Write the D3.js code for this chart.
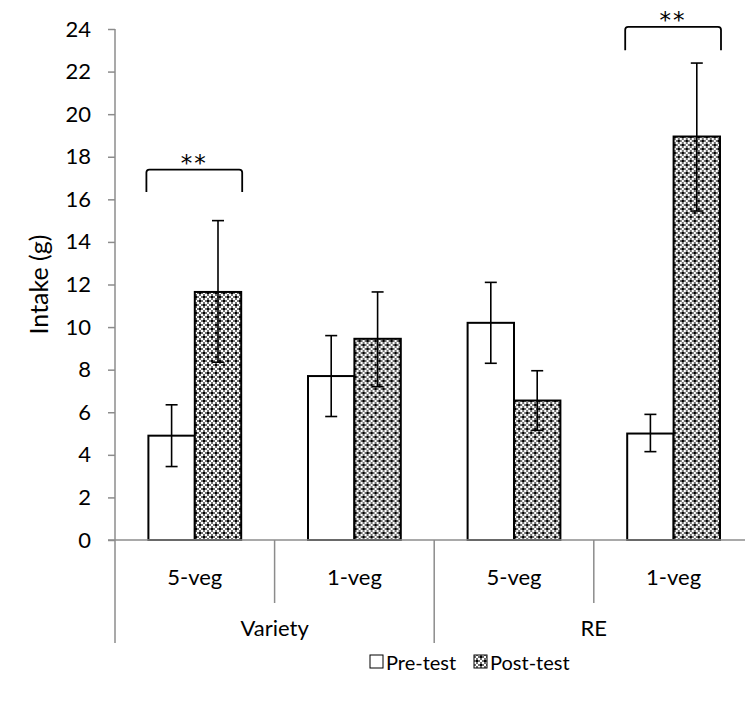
<!DOCTYPE html>
<html>
<head>
<meta charset="utf-8">
<script src="https://cdn.jsdelivr.net/npm/d3@7"></script>
<style>
  body { margin: 0; background: #fff; }
  text { font-family: Lato, "Open Sans", sans-serif; fill: #000; }
</style>
</head>
<body>
<svg id="chart" width="745" height="716"></svg>
<script>
// ---- data ----
const groups = ["Variety", "RE"];
const subcats = ["5-veg", "1-veg"];
const series = ["Pre-test", "Post-test"];
const preValues  = [4.9, 7.7, 10.2, 5.0];
const preLow     = [3.45, 5.8, 8.3, 4.15];
const preHigh    = [6.35, 9.6, 12.1, 5.9];
const postValues = [11.65, 9.45, 6.55, 18.95];
const postLow    = [8.35, 7.2, 5.15, 15.45];
const postHigh   = [15.0, 11.65, 7.95, 22.4];
const yTicks = [0, 2, 4, 6, 8, 10, 12, 14, 16, 18, 20, 22, 24];
// significance brackets: category index, bracket top value, leg bottom value
const sigIndex = [0, 3];
const sigTop = [17.4, 24.1];
const sigLeg = [16.35, 23.0];
const sigLabel = ["**", "**"];

const categories = [];
groups.forEach(g => subcats.forEach(s => categories.push({ g, s, key: g + "|" + s })));

const svg = d3.select("#chart");
const mLeft = 115, mTop = 29, mBottom = 540, catW = 159.6;
const mRight = mLeft + catW * categories.length;
const FONT = "Lato, 'Open Sans', sans-serif";

const defs = svg.append("defs");
const pat = defs.append("pattern").attr("id", "weave")
  .attr("patternUnits", "userSpaceOnUse").attr("width", 8).attr("height", 8);
pat.append("rect").attr("width", 8).attr("height", 8).attr("fill", "#fff");
[[0,0],[4,4]].forEach(([x,y]) => pat.append("rect").attr("x", x).attr("y", y).attr("width", 2).attr("height", 2).attr("fill", "#000"));
[[2,0],[6,0],[0,2],[0,6],[6,4],[2,4],[4,2],[4,6]].forEach(([x,y]) => pat.append("rect").attr("x", x).attr("y", y).attr("width", 2).attr("height", 2).attr("fill", "#6e6e6e"));

const x0 = d3.scaleBand().domain(categories.map(c => c.key)).range([mLeft, mRight]).paddingInner(0).paddingOuter(0);
const x1 = d3.scaleBand().domain(series).range([0, x0.bandwidth()]).paddingInner(0).paddingOuter(0.72);
const y = d3.scaleLinear().domain([0, 24]).range([mBottom, mTop]);

const gridColor = "#8c8c8c";

// y axis
const yAxis = svg.append("g").attr("transform", `translate(${mLeft},0)`)
  .call(d3.axisLeft(y).tickValues(yTicks).tickSize(7).tickPadding(17));
yAxis.select(".domain").attr("stroke", gridColor).attr("stroke-width", 1.5).attr("d", `M0,${mTop}V${mBottom}`);
yAxis.selectAll(".tick line").attr("stroke", gridColor).attr("stroke-width", 1.5);
yAxis.selectAll(".tick text").style("font-size", "22px").style("font-family", FONT).attr("fill", "#000");

// bars
const data = categories.map((c, i) => ({
  key: c.key,
  vals: [
    { s: series[0], v: preValues[i], lo: preLow[i], hi: preHigh[i] },
    { s: series[1], v: postValues[i], lo: postLow[i], hi: postHigh[i] }
  ]
}));

const cg = svg.append("g").selectAll("g").data(data).join("g")
  .attr("transform", d => `translate(${x0(d.key)},0)`);
cg.selectAll("rect").data(d => d.vals).join("rect")
  .attr("x", d => x1(d.s)).attr("y", d => y(d.v))
  .attr("width", x1.bandwidth()).attr("height", d => y(0) - y(d.v))
  .attr("fill", d => d.s === series[0] ? "#fff" : "url(#weave)")
  .attr("stroke", "#000").attr("stroke-width", 2);

// error bars
const eb = cg.selectAll("g.err").data(d => d.vals).join("g").attr("class", "err");
eb.append("line")
  .attr("x1", d => x1(d.s) + x1.bandwidth() / 2).attr("x2", d => x1(d.s) + x1.bandwidth() / 2)
  .attr("y1", d => y(d.lo)).attr("y2", d => y(d.hi))
  .attr("stroke", "#000").attr("stroke-width", 1.6);
["lo", "hi"].forEach(k => eb.append("line")
  .attr("x1", d => x1(d.s) + x1.bandwidth() / 2 - 6).attr("x2", d => x1(d.s) + x1.bandwidth() / 2 + 6)
  .attr("y1", d => y(d[k])).attr("y2", d => y(d[k]))
  .attr("stroke", "#000").attr("stroke-width", 1.6));

// x axis line
svg.append("line").attr("x1", mLeft - 7).attr("x2", 745).attr("y1", mBottom).attr("y2", mBottom)
  .attr("stroke", gridColor).attr("stroke-width", 1.5);
// y axis extension below
svg.append("line").attr("x1", mLeft).attr("x2", mLeft).attr("y1", mBottom).attr("y2", 643)
  .attr("stroke", gridColor).attr("stroke-width", 1.5);
// separators
categories.forEach((c, i) => {
  if (i === 0) return;
  const xx = x0(c.key);
  const isGroup = categories[i - 1].g !== c.g;
  svg.append("line").attr("x1", xx).attr("x2", xx).attr("y1", mBottom).attr("y2", isGroup ? 643 : 603)
    .attr("stroke", gridColor).attr("stroke-width", 1.5);
});

// sub category labels
svg.append("g").selectAll("text").data(categories).join("text")
  .attr("x", d => x0(d.key) + x0.bandwidth() / 2).attr("y", 585)
  .attr("text-anchor", "middle").style("font-size", "22px").text(d => d.s);
// group labels
svg.append("g").selectAll("text").data(groups).join("text")
  .attr("x", g => {
    const cs = categories.filter(c => c.g === g);
    return (x0(cs[0].key) + x0(cs[cs.length - 1].key) + x0.bandwidth()) / 2;
  })
  .attr("y", 636).attr("text-anchor", "middle").style("font-size", "22px").text(g => g);

// y axis title
svg.append("text").attr("transform", `translate(48,${(mTop + mBottom) / 2}) rotate(-90)`)
  .attr("text-anchor", "middle").style("font-size", "25px").text("Intake (g)");

// significance brackets
sigIndex.forEach((ci, k) => {
  const key = categories[ci].key;
  const xa = x0(key) + x1(series[0]) - 2;
  const xb = x0(key) + x1(series[1]) + x1.bandwidth() + 1;
  const yt = y(sigTop[k]), yl = y(sigLeg[k]);
  const r = 3;
  svg.append("path")
    .attr("d", `M${xa},${yl} L${xa},${yt + r} Q${xa},${yt} ${xa + r},${yt} L${xb - r},${yt} Q${xb},${yt} ${xb},${yt + r} L${xb},${yl}`)
    .attr("fill", "none").attr("stroke", "#000").attr("stroke-width", 1.8);
  svg.append("text").attr("x", (xa + xb) / 2).attr("y", yt + 1)
    .attr("text-anchor", "middle").style("font-family", "'DejaVu Sans', sans-serif")
    .style("font-size", "23px").style("letter-spacing", "2px").text(sigLabel[k]);
});

// legend
const legend = svg.append("g");
const legX = [370, 474];
series.forEach((s, i) => {
  legend.append("rect").attr("x", legX[i]).attr("y", 655).attr("width", 13).attr("height", 13)
    .attr("fill", i === 0 ? "#fff" : "url(#weave)").attr("stroke", "#000").attr("stroke-width", 1);
  legend.append("text").attr("x", legX[i] + 16).attr("y", 670).style("font-size", "20px").text(s);
});
</script>
</body>
</html>
